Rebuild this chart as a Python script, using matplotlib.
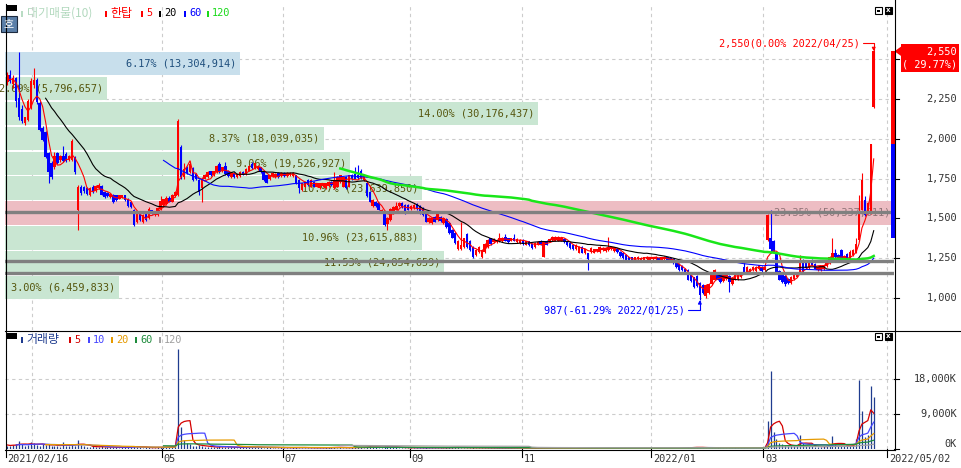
import numpy as np
import pandas as pd
import matplotlib
matplotlib.use("Agg")
import matplotlib.pyplot as plt
from matplotlib import transforms, font_manager
from matplotlib.patches import Rectangle, Polygon
from matplotlib.lines import Line2D

# ---------------- daily candles (open, high, low, close) ----------------
pre_close = [2350, 2395, 2340, 2380, 2360, 2365]
pre_volume = [1100, 900, 1300, 800, 1200, 1000]

feb21 = [(2360, 2420, 2340, 2400), (2400, 2430, 2350, 2365), (2345, 2400, 2320, 2380),
         (2380, 2390, 2200, 2240), (2255, 2545, 2120, 2140), (2190, 2210, 2100, 2115),
         (2100, 2140, 2085, 2135), (2120, 2250, 2110, 2240), (2200, 2380, 2190, 2365)]
mar21 = [(2340, 2445, 2320, 2370), (2368, 2380, 2220, 2230), (2225, 2235, 2050, 2055),
         (2070, 2080, 1985, 1990), (2040, 2050, 1880, 1885), (1910, 1920, 1720, 1790),
         (1850, 1860, 1750, 1760), (1820, 1915, 1810, 1895), (1910, 1920, 1840, 1845),
         (1865, 1900, 1855, 1895), (1895, 1955, 1855, 1860), (1905, 1915, 1855, 1860),
         (1865, 1900, 1860, 1895), (1870, 2000, 1860, 1985), (1885, 1890, 1780, 1790),
         (1555, 1710, 1425, 1695), (1700, 1710, 1650, 1660), (1695, 1705, 1660, 1670),
         (1690, 1700, 1645, 1655), (1650, 1695, 1640, 1690), (1700, 1710, 1660, 1665),
         (1670, 1710, 1665, 1705)]
apr21 = [(1690, 1720, 1685, 1710), (1705, 1710, 1645, 1650), (1665, 1670, 1630, 1635),
         (1660, 1665, 1635, 1640), (1635, 1660, 1630, 1655), (1650, 1655, 1595, 1600),
         (1645, 1650, 1610, 1615), (1625, 1650, 1620, 1645), (1635, 1650, 1630, 1645),
         (1645, 1650, 1610, 1615), (1625, 1630, 1570, 1575), (1600, 1605, 1565, 1570),
         (1552, 1560, 1455, 1460), (1480, 1535, 1470, 1530), (1530, 1535, 1485, 1490),
         (1475, 1525, 1470, 1520), (1530, 1535, 1485, 1490), (1505, 1570, 1495, 1560),
         (1550, 1555, 1525, 1530), (1530, 1545, 1515, 1530), (1520, 1570, 1515, 1565),
         (1560, 1640, 1555, 1610)]
may21 = [(1585, 1625, 1575, 1620), (1590, 1640, 1585, 1630), (1630, 1640, 1600, 1605),
         (1605, 1655, 1600, 1650), (1640, 1675, 1635, 1665), (1650, 2125, 1640, 2115),
         (1950, 1960, 1750, 1760), (1760, 1850, 1750, 1810), (1820, 1830, 1780, 1785),
         (1790, 1860, 1785, 1840), (1815, 1825, 1735, 1740), (1780, 1785, 1740, 1745),
         (1740, 1745, 1650, 1665), (1690, 1760, 1600, 1745), (1750, 1780, 1745, 1775),
         (1760, 1795, 1755, 1790), (1795, 1800, 1765, 1770), (1770, 1800, 1765, 1795),
         (1790, 1835, 1785, 1830)]
jun21 = [(1840, 1855, 1785, 1790), (1795, 1825, 1790, 1820), (1830, 1855, 1775, 1780),
         (1800, 1805, 1760, 1765), (1760, 1790, 1755, 1785), (1785, 1790, 1755, 1760),
         (1760, 1785, 1755, 1780), (1765, 1795, 1760, 1790), (1790, 1795, 1770, 1775),
         (1780, 1815, 1775, 1810), (1800, 1835, 1795, 1830), (1840, 1855, 1810, 1815),
         (1815, 1850, 1810, 1845), (1810, 1835, 1805, 1830), (1820, 1825, 1785, 1790),
         (1790, 1795, 1735, 1740), (1770, 1775, 1720, 1725), (1745, 1775, 1740, 1770),
         (1765, 1790, 1760, 1785), (1760, 1785, 1755, 1780), (1785, 1790, 1755, 1760),
         (1765, 1790, 1760, 1785)]
jul21 = [(1785, 1790, 1760, 1765), (1765, 1790, 1760, 1785), (1770, 1790, 1765, 1785),
         (1765, 1790, 1760, 1785), (1770, 1775, 1715, 1720), (1740, 1745, 1660, 1690),
         (1680, 1725, 1675, 1720), (1700, 1735, 1695, 1730), (1740, 1745, 1705, 1710),
         (1700, 1745, 1695, 1740), (1730, 1735, 1695, 1700), (1700, 1725, 1695, 1720),
         (1690, 1725, 1685, 1720), (1705, 1725, 1700, 1720), (1690, 1725, 1685, 1720),
         (1705, 1735, 1700, 1730), (1730, 1735, 1705, 1710), (1690, 1790, 1685, 1740),
         (1700, 1765, 1695, 1760), (1730, 1775, 1725, 1770), (1700, 1765, 1695, 1760),
         (1760, 1765, 1685, 1690)]
aug21 = [(1700, 1775, 1695, 1770), (1770, 1780, 1740, 1745), (1780, 1820, 1745, 1750),
         (1775, 1835, 1750, 1755), (1800, 1810, 1750, 1755), (1740, 1770, 1735, 1765),
         (1720, 1725, 1635, 1640), (1665, 1670, 1600, 1605), (1575, 1620, 1570, 1615),
         (1600, 1610, 1570, 1575), (1595, 1600, 1550, 1555), (1540, 1560, 1535, 1555),
         (1535, 1540, 1455, 1460), (1465, 1510, 1425, 1500), (1490, 1565, 1485, 1560),
         (1535, 1575, 1530, 1570), (1555, 1600, 1550, 1580), (1575, 1600, 1570, 1595),
         (1595, 1600, 1565, 1570), (1585, 1590, 1530, 1535), (1585, 1590, 1550, 1555)]
sep21 = [(1560, 1585, 1555, 1580), (1565, 1590, 1560, 1585), (1590, 1595, 1555, 1560),
         (1580, 1585, 1525, 1530), (1565, 1570, 1515, 1520), (1530, 1535, 1475, 1480),
         (1475, 1510, 1470, 1505), (1470, 1505, 1465, 1500), (1510, 1515, 1475, 1480),
         (1490, 1535, 1485, 1530), (1510, 1515, 1480, 1485), (1470, 1510, 1465, 1505),
         (1495, 1500, 1440, 1445), (1470, 1475, 1405, 1410), (1430, 1435, 1375, 1380),
         (1410, 1415, 1340, 1345), (1305, 1365, 1300, 1360), (1310, 1480, 1300, 1330),
         (1320, 1380, 1315, 1375)]
oct21 = [(1405, 1410, 1315, 1320), (1360, 1365, 1295, 1300), (1320, 1325, 1250, 1255),
         (1270, 1305, 1265, 1300), (1290, 1325, 1285, 1320), (1255, 1305, 1250, 1300),
         (1290, 1345, 1285, 1340), (1320, 1370, 1315, 1365), (1375, 1380, 1335, 1340),
         (1350, 1375, 1345, 1370), (1350, 1370, 1345, 1365), (1355, 1410, 1350, 1380),
         (1355, 1385, 1350, 1380), (1385, 1400, 1355, 1360), (1375, 1380, 1345, 1350),
         (1360, 1380, 1355, 1375), (1375, 1400, 1355, 1360), (1350, 1375, 1345, 1370),
         (1345, 1370, 1340, 1365)]
nov21 = [(1365, 1370, 1335, 1340), (1335, 1360, 1330, 1355), (1355, 1360, 1325, 1330),
         (1340, 1345, 1310, 1315), (1320, 1350, 1315, 1345), (1335, 1355, 1330, 1350),
         (1360, 1365, 1330, 1335), (1260, 1355, 1255, 1350), (1360, 1365, 1330, 1335),
         (1355, 1375, 1350, 1370), (1365, 1390, 1360, 1385), (1365, 1390, 1360, 1385),
         (1360, 1390, 1355, 1385), (1360, 1385, 1355, 1380), (1370, 1375, 1345, 1350),
         (1355, 1360, 1325, 1330), (1345, 1350, 1310, 1315), (1335, 1340, 1300, 1305),
         (1305, 1340, 1300, 1335), (1285, 1325, 1280, 1320), (1320, 1325, 1280, 1285),
         (1280, 1310, 1275, 1305)]
dec21 = [(1280, 1285, 1175, 1245), (1290, 1320, 1285, 1315), (1285, 1310, 1280, 1305),
         (1295, 1310, 1290, 1305), (1290, 1325, 1285, 1320), (1300, 1320, 1295, 1315),
         (1295, 1320, 1290, 1315), (1300, 1385, 1295, 1320), (1305, 1325, 1300, 1320),
         (1295, 1320, 1290, 1315), (1310, 1315, 1285, 1290), (1290, 1295, 1260, 1265),
         (1285, 1290, 1245, 1250), (1270, 1275, 1235, 1240), (1255, 1260, 1230, 1235),
         (1255, 1260, 1235, 1240), (1240, 1260, 1235, 1255), (1245, 1262, 1240, 1258),
         (1240, 1255, 1235, 1250), (1240, 1260, 1235, 1255), (1242, 1262, 1238, 1258),
         (1240, 1260, 1235, 1255)]
jan22 = [(1245, 1260, 1240, 1255), (1245, 1262, 1240, 1258), (1250, 1255, 1230, 1235),
         (1240, 1260, 1235, 1255), (1245, 1262, 1240, 1258), (1255, 1260, 1235, 1240),
         (1250, 1255, 1225, 1230), (1245, 1250, 1215, 1220), (1225, 1230, 1190, 1195),
         (1215, 1220, 1170, 1175), (1200, 1205, 1170, 1175), (1185, 1190, 1155, 1160),
         (1175, 1180, 1110, 1115), (1145, 1150, 1100, 1105), (1130, 1135, 1065, 1070),
         (1140, 1145, 1070, 1075), (1095, 1100, 987, 1020), (1080, 1085, 1025, 1030),
         (1010, 1085, 1000, 1080), (1030, 1095, 1025, 1090)]
feb22 = [(1085, 1150, 1080, 1145), (1115, 1180, 1110, 1175), (1160, 1165, 1110, 1115),
         (1150, 1155, 1095, 1100), (1105, 1150, 1100, 1145), (1120, 1165, 1115, 1160),
         (1140, 1145, 1040, 1100), (1085, 1130, 1080, 1125), (1115, 1165, 1110, 1160),
         (1120, 1155, 1115, 1150), (1130, 1165, 1125, 1160), (1195, 1240, 1155, 1160),
         (1165, 1200, 1160, 1195), (1160, 1190, 1155, 1185), (1175, 1200, 1170, 1195),
         (1170, 1200, 1165, 1195), (1180, 1210, 1175, 1205), (1195, 1200, 1165, 1170)]
mar22 = [(1175, 1200, 1170, 1195), (1365, 1525, 1360, 1520), (1380, 1550, 1280, 1310),
         (1360, 1365, 1280, 1285), (1280, 1285, 1155, 1160), (1170, 1175, 1110, 1115),
         (1160, 1165, 1095, 1100), (1140, 1145, 1075, 1090), (1120, 1125, 1090, 1095),
         (1095, 1140, 1090, 1135), (1120, 1155, 1115, 1150), (1135, 1165, 1130, 1160),
         (1160, 1270, 1155, 1230), (1240, 1245, 1165, 1170), (1235, 1240, 1185, 1190),
         (1190, 1235, 1185, 1230), (1240, 1245, 1205, 1210), (1215, 1220, 1180, 1185),
         (1175, 1200, 1170, 1195), (1175, 1205, 1170, 1200), (1180, 1215, 1175, 1210)]
apr22 = [(1200, 1240, 1195, 1235), (1220, 1265, 1215, 1260), (1240, 1380, 1235, 1285),
         (1285, 1305, 1250, 1255), (1270, 1275, 1240, 1245), (1300, 1305, 1235, 1240),
         (1240, 1270, 1235, 1265), (1275, 1280, 1235, 1240), (1245, 1300, 1240, 1290),
         (1270, 1305, 1265, 1300), (1285, 1380, 1280, 1340), (1365, 1645, 1360, 1530),
         (1555, 1785, 1550, 1740), (1615, 1640, 1515, 1520), (1535, 1600, 1530, 1595),
         (1535, 1965, 1530, 1965), (2200, 2550, 2195, 2550)]

# ---------------- daily volume (thousand shares) ----------------
vol_feb21 = [900, 700, 1100, 1300, 2000, 1200, 800, 1000, 1800]
vol_mar21 = [1500, 1100, 900, 1200, 1000, 1400, 800, 900, 700, 600, 1900, 800, 700, 1300,
             900, 2300, 1000, 700, 600, 500, 700, 600]
vol_apr21 = [500, 700, 400, 500, 400, 600, 400, 300, 400, 500, 600, 500, 900, 600, 400,
             300, 400, 400, 300, 300, 400, 500]
vol_may21 = [600, 500, 400, 700, 900, 25900, 5600, 2400, 1500, 1200, 900, 800, 1000, 900,
             600, 500, 400, 500, 600]
vol_jun21 = [700, 500, 600, 400, 500, 400, 350, 400, 450, 500, 600, 450, 400, 500, 400,
             350, 400, 450, 350, 300, 350, 400]
vol_jul21 = [350, 300, 350, 400, 500, 350, 300, 350, 300, 300, 350, 300, 300, 350, 400,
             500, 450, 400, 350, 400, 350, 300]
vol_aug21 = [350, 400, 450, 500, 400, 350, 600, 700, 500, 400, 350, 300, 700, 800, 500,
             400, 450, 350, 300, 350, 300]
vol_sep21 = [300, 350, 300, 350, 300, 400, 350, 300, 250, 300, 300, 350, 400, 450, 500,
             400, 450, 350, 300]
vol_oct21 = [350, 300, 400, 350, 300, 250, 300, 250, 300, 250, 200, 250, 300, 250, 200,
             250, 200, 250, 200]
vol_nov21 = [200, 250, 200, 200, 250, 200, 250, 300, 250, 200, 200, 250, 200, 200, 250,
             200, 200, 250, 200, 200, 250, 200]
vol_dec21 = [200, 250, 200, 300, 250, 200, 200, 150, 200, 150, 150, 200, 150, 150, 200,
             150, 150, 200, 150, 150, 150, 150]
vol_jan22 = [150, 200, 150, 150, 200, 150, 150, 200, 250, 200, 300, 350, 400, 450, 400,
             500, 400, 350, 300, 250]
vol_feb22 = [300, 250, 400, 300, 350, 300, 250, 300, 400, 300, 250, 200, 300, 250, 200,
             250, 200, 250]
vol_mar22 = [250, 7270, 20260, 4340, 2500, 1500, 1200, 1000, 800, 700, 900, 800, 3560,
             1500, 900, 700, 800, 600, 500, 600, 700]
vol_apr22 = [800, 900, 3380, 1200, 900, 800, 700, 900, 800, 1200, 2500, 17840, 9870, 3000,
             3500, 16360, 13500]

# ---------------- volume-at-price bands (low -> high) ----------------
profile_pct = [3.00, 11.53, 10.96, 23.35, 10.97, 9.06, 8.37, 14.00, 2.69, 6.17]
profile_vol = [6459833, 24854659, 23615883, 50337611, 23639850, 19526927, 18039035,
               30176437, 5796657, 13304914]

support_lines = [1542, 1230, 1155]
high_date = "2022/04/25"
low_date = "2022/01/25"
first_date = "2021/02/16"
tick_names = ["05", "07", "09", "11", "2022/01", "03"]
end_date = "2022/05/02"
sessions_to_end = 4

months = [feb21, mar21, apr21, may21, jun21, jul21, aug21, sep21, oct21, nov21, dec21,
          jan22, feb22, mar22, apr22]
vol_months = [vol_feb21, vol_mar21, vol_apr21, vol_may21, vol_jun21, vol_jul21, vol_aug21,
              vol_sep21, vol_oct21, vol_nov21, vol_dec21, vol_jan22, vol_feb22, vol_mar22,
              vol_apr22]

candles = np.array([row for m in months for row in m], dtype=float)
opens, highs, lows, closes = candles.T
volume = np.array([v for m in vol_months for v in m], dtype=float)
n = len(closes)
days = np.arange(n)
month_starts = np.cumsum([0] + [len(m) for m in months[:-1]])

# ---------------- fonts ----------------
plt.rcParams['axes.unicode_minus'] = False
_names = {f.name for f in font_manager.fontManager.ttflist}
if 'Liberation Sans Narrow' in _names:
    NUM = dict(family='Liberation Sans Narrow', size=9.6)
else:
    NUM = dict(family='DejaVu Sans Mono', size=7.4)
KR = dict(family=['Noto Sans CJK KR', 'DejaVu Sans'], size=8.6)

# ---------------- figure / axes ----------------
W, H = 961, 468
fig = plt.figure(figsize=(W / 100, H / 100), dpi=100)
fig.patch.set_facecolor('white')


def fx(px):
    return px / W


def fy(py):
    return 1 - py / H


ax = fig.add_axes([fx(5), fy(330), fx(894) - fx(5), fy(4) - fy(330)])
axv = fig.add_axes([fx(5), fy(449), fx(894) - fx(5), fy(330) - fy(449)])
for a in (ax, axv):
    a.set_xlim(-0.78, 300.88)
    for s in a.spines.values():
        s.set_visible(False)
    a.set_xticks([])
    a.set_yticks([])
    a.patch.set_alpha(0)
ax.set_ylim(799, 2847)
axv.set_ylim(0, 30750)

grid_kw = dict(color='#cccccc', lw=0.8, ls=(0, (3, 3)), zorder=0.5)
tick_pos = [-0.5] + [month_starts[k] - 0.5 for k in (3, 5, 7, 9, 11, 13)] + [n + sessions_to_end - 0.5]
grid_pos = [month_starts[1] - 0.5] + tick_pos[1:]
for gx in grid_pos:
    ax.axvline(gx, **grid_kw)
    axv.axvline(gx, **grid_kw)
price_ticks = [1000, 1250, 1500, 1750, 2000, 2250, 2500]
for p in price_ticks:
    ax.axhline(p, **grid_kw)
vol_ticks = [0, 9000, 18000]
for v in vol_ticks[1:]:
    axv.axhline(v, **grid_kw)

# ---------------- volume-at-price bands ----------------
lo, hi = lows.min(), highs.max()
edges = np.linspace(lo, hi, len(profile_vol) + 1)
step = edges[1] - edges[0]
vmax = max(profile_vol)
cur_band = min(int((closes[-1] - lo) / step), len(profile_vol) - 1)
band_tr = transforms.blended_transform_factory(ax.transAxes, ax.transData)
for k, (v, pct) in enumerate(zip(profile_vol, profile_pct)):
    if v == vmax:
        fc, tc = '#edbdc3', '#8f7377'
    elif k == cur_band:
        fc, tc = '#c8dfec', '#1f4f7d'
    else:
        fc, tc = '#c9e6d2', '#56560e'
    ax.add_patch(Rectangle((0, edges[k] + 5), v / vmax, step - 10, transform=band_tr,
                           facecolor=fc, edgecolor='none', zorder=1))
    ax.text(v / vmax - 4 / 889, edges[k] + step / 2, f"{pct:.2f}% ({v:,})",
            transform=band_tr, ha='right', va='center', color=tc, zorder=2, **NUM)

# ---------------- candles ----------------
up = closes >= opens
cols = np.where(up, '#ff0000', '#0000ff')
ax.vlines(days, lows, highs, colors=cols, lw=0.8, zorder=4)
ax.bar(days, np.maximum(np.abs(closes - opens), 4), bottom=np.minimum(opens, closes),
       width=0.85, color=cols, lw=0, zorder=4)

# moving averages
close_all = pd.Series(np.r_[pre_close, closes])
for period, color, lw in [(5, '#ff0000', 0.8), (20, '#000000', 0.8), (60, '#0000ff', 0.8),
                          (120, '#19e619', 1.8)]:
    ma = close_all.rolling(period).mean().to_numpy()[len(pre_close):]
    ax.plot(days, ma, color=color, lw=lw, zorder=5)

for p in support_lines:
    ax.axhline(p, color='#808080', lw=2.4, zorder=6)

# high / low markers
imax = int(np.argmax(highs))
imin = int(np.argmin(lows))
last = closes[-1]
arrow = dict(arrowstyle='-|>', lw=0.8, shrinkA=0, shrinkB=0, mutation_scale=5,
             relpos=(1, 0.5), connectionstyle='angle,angleA=0,angleB=90,rad=0')
ax.annotate(f"{highs[imax]:,.0f}({(highs[imax] / last - 1) * 100:.2f}% {high_date})",
            xy=(imax, highs[imax]), xytext=(-14, 8), textcoords='offset pixels',
            ha='right', va='center', color='#ff0000', zorder=7,
            arrowprops=dict(color='#ff0000', **arrow), **NUM)
ax.annotate(f"{lows[imin]:,.0f}({(lows[imin] / last - 1) * 100:.2f}% {low_date})",
            xy=(imin, lows[imin]), xytext=(-15, -10), textcoords='offset pixels',
            ha='right', va='center', color='#0000ff', zorder=7,
            arrowprops=dict(color='#0000ff', **arrow), **NUM)

# ---------------- volume panel ----------------
axv.vlines(days, 0, volume, color='#1f3c8f', lw=0.9, zorder=2)
vol_all = pd.Series(np.r_[pre_volume, volume])
for period, color in [(5, '#d40000'), (10, '#4646ff'), (20, '#e69a00'), (60, '#1e8c3c'),
                      (120, '#a0a0a0')]:
    vma = vol_all.rolling(period).mean().to_numpy()[len(pre_volume):]
    axv.plot(days, vma, color=color, lw=0.9, zorder=3)

# ---------------- frame lines ----------------
def fline(x0, y0, x1, y1, color='black', lw=0.8):
    fig.add_artist(Line2D([fx(x0), fx(x1)], [fy(y0), fy(y1)], transform=fig.transFigure,
                          color=color, lw=lw))


fline(894.5, 0, 894.5, 449.5)
fline(5.5, 4, 5.5, 449.5)
fline(5, 330.5, 961, 330.5)
fline(5, 449.5, 894.5, 449.5)

# right axis labels
price_tr = transforms.blended_transform_factory(fig.transFigure, ax.transData)
for p in price_ticks:
    ax.add_line(Line2D([fx(894), fx(899)], [p, p], transform=price_tr, color='black',
                       lw=0.8, clip_on=False))
    if p < 2500:
        ax.text(fx(957), p, f"{p:,}", transform=price_tr, ha='right', va='center',
                color='#333333', clip_on=False, **NUM)
vol_tr = transforms.blended_transform_factory(fig.transFigure, axv.transData)
for v in vol_ticks:
    axv.add_line(Line2D([fx(894), fx(899)], [v, v], transform=vol_tr, color='black',
                        lw=0.8, clip_on=False))
    tr = vol_tr if v else transforms.offset_copy(vol_tr, fig=fig, y=5, units='dots')
    axv.text(fx(957), v, f"{v:,}K", transform=tr, ha='right', va='center',
             color='#333333', clip_on=False, **NUM)

# date axis
date_tr = transforms.blended_transform_factory(axv.transData, fig.transFigure)
for pos, lab in zip(tick_pos, [first_date] + tick_names + [end_date]):
    axv.add_line(Line2D([pos, pos], [fy(449), fy(457)], transform=date_tr, color='black',
                        lw=0.8, clip_on=False))
    axv.text(pos + 0.6, fy(459), lab, transform=date_tr, ha='left', va='center',
             color='#333333', clip_on=False, **NUM)

# price-limit bar and current price box
prev = closes[-2]
upper = np.floor(prev * 1.3 / 5) * 5
lower = np.ceil(prev * 0.7 / 5) * 5
ax.add_patch(Rectangle((fx(891), prev), fx(894.5) - fx(891), upper - prev, transform=price_tr,
                       facecolor='#ff0000', edgecolor='none', clip_on=False, zorder=8))
ax.add_patch(Rectangle((fx(891), lower), fx(894.5) - fx(891), prev - lower, transform=price_tr,
                       facecolor='#0000ff', edgecolor='none', clip_on=False, zorder=8))
won_px = (2847 - 799) / 326
ax.add_patch(Rectangle((fx(901), last - 20.5 * won_px), fx(959) - fx(901), 28 * won_px,
                       transform=price_tr, facecolor='#ff0000', edgecolor='none',
                       clip_on=False, zorder=8))
ax.add_patch(Polygon([(fx(894.5), last), (fx(901.5), last + 5 * won_px),
                      (fx(901.5), last - 5 * won_px)], closed=True, transform=price_tr,
                     facecolor='#ff0000', edgecolor='none', clip_on=False, zorder=8))
ax.text(fx(957), last - 0.8 * won_px, f"{last:,.0f}", transform=price_tr, ha='right',
        va='center', color='white', clip_on=False, zorder=9, **NUM)
ax.text(fx(957.5), last - 12.8 * won_px, f"( {(last / prev - 1) * 100:.2f}%)", transform=price_tr,
        ha='right', va='center', color='white', clip_on=False, zorder=9, **NUM)

# ---------------- legends ----------------
def swatch(x, y, color, w=2.4, h=6):
    fig.add_artist(Rectangle((fx(x), fy(y + h / 2)), w / W, h / H, transform=fig.transFigure,
                             facecolor=color, edgecolor='none'))


def ftext(x, y, s, color, font):
    fig.text(fx(x), fy(y), s, color=color, ha='left', va='center', **font)


for yb in (5, 333):
    fig.add_artist(Rectangle((fx(7), fy(yb + 6)), 10 / W, 6 / H, transform=fig.transFigure,
                             facecolor='black', edgecolor='none'))

top_y = 13.5
swatch(21, top_y, '#b9dcc4')
ftext(27, top_y, "대기매물(10)", '#b3d9bf', KR)
swatch(105, top_y, '#ff0000')
ftext(110, top_y, "한탑", '#ff0000', KR)
for x0, lab, col in [(141, "5", '#ff0000'), (159, "20", '#000000'), (184, "60", '#0000ff'),
                     (207, "120", '#19d919')]:
    swatch(x0, top_y, col)
    ftext(x0 + 5, top_y, lab, col, NUM)

vol_y = 340
swatch(21, vol_y, '#1f3c8f')
ftext(26, vol_y, "거래량", '#1f3c8f', KR)
for x0, lab, col in [(69, "5", '#d40000'), (88, "10", '#4646ff'), (111, "20", '#e69a00'),
                     (135, "60", '#1e8c3c'), (159, "120", '#a0a0a0')]:
    swatch(x0, vol_y, col)
    ftext(x0 + 5, vol_y, lab, col, NUM)

# side button
fig.add_artist(Rectangle((fx(1), fy(32)), 16 / W, 16 / H, transform=fig.transFigure,
                         facecolor='#5b7fa8', edgecolor='#1d2b40', lw=0.8))
fig.text(fx(9), fy(24), "호", color='white', ha='center', va='center',
         family=['Noto Sans CJK KR'], size=8)

# window icons
for yb in (7, 333):
    fig.add_artist(Rectangle((fx(874.5), fy(yb + 7)), 7 / W, 7 / H, transform=fig.transFigure,
                             facecolor='white', edgecolor='black', lw=0.8))
    fig.add_artist(Rectangle((fx(876.5), fy(yb + 5)), 3 / W, 2 / H, transform=fig.transFigure,
                             facecolor='black', edgecolor='none'))
    fig.add_artist(Rectangle((fx(884.5), fy(yb + 7)), 7 / W, 7 / H, transform=fig.transFigure,
                             facecolor='black', edgecolor='black', lw=0.8))
    fig.text(fx(888), fy(yb + 3.5), "x", color='white', ha='center', va='center',
             family='DejaVu Sans', size=5, weight='bold')

fig.savefig("out.png", dpi=100, facecolor='white')
